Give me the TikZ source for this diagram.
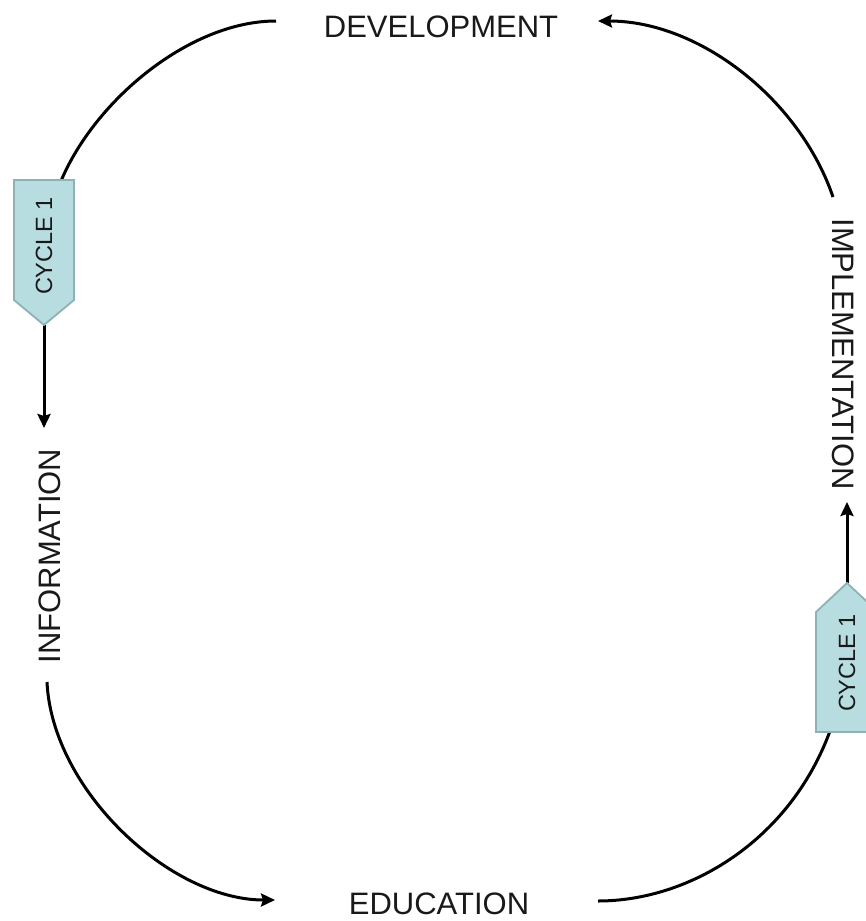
\documentclass[tikz,border=0pt]{standalone}
\usepackage{fontspec}
\setmainfont{Liberation Sans}
\usetikzlibrary{arrows.meta}
\definecolor{boxfill}{RGB}{183,221,224}
\definecolor{boxline}{RGB}{140,178,182}
\definecolor{txt}{RGB}{25,25,25}
\begin{document}
\begin{tikzpicture}[x=1pt,y=-1pt,
  lbl/.style={font=\fontsize{31}{37}\selectfont, text=txt, inner sep=0pt},
  cyc/.style={font=\fontsize{23.5}{28}\selectfont, text=txt, inner sep=0pt, rotate=90},
  flow/.style={line width=3pt, black},
  tip/.style={-{Stealth[length=14pt,width=13pt,inset=2pt]}},
  pent/.style={fill=boxfill, draw=boxline, line width=1.8pt, line join=miter}]
\useasboundingbox (0,0) rectangle (866,921);
% labels
\node[lbl] (dev) at (441,27) {DEVELOPMENT};
\node[lbl] (edu) at (439,904) {EDUCATION};
\node[lbl, rotate=90] (info) at (50,556) {INFORMATION};
\node[lbl, rotate=-90] (impl) at (843,354) {IMPLEMENTATION};
% connector ends
\coordinate (devL) at (276,21);
\coordinate (devR) at (598,21);
\coordinate (eduL) at (275,900);
\coordinate (eduR) at (598,901);
\coordinate (infoT) at (44,428);
\coordinate (infoB) at (47,682);
\coordinate (implB) at (847,502);
\coordinate (implT) at (833,197);
\coordinate (c1top) at (61,181);
\coordinate (c1tip) at (44,325);
\coordinate (c2bot) at (830,731);
\coordinate (c2tip) at (847,583);
% connectors
\draw[flow] (devL) .. controls (190,21) and (95,100) .. (c1top);
\draw[flow,tip] (c1tip) -- (infoT);
\draw[flow,tip] (infoB) .. controls (52,790) and (170,900) .. (eduL);
\draw[flow] (eduR) .. controls (690,901) and (790,840) .. (c2bot);
\draw[flow,tip] (c2tip) -- (implB);
\draw[flow,tip] (implT) .. controls (800,100) and (700,21) .. (devR);
% cycle boxes
\draw[pent] (14,180) -- (74,180) -- (74,300) -- (c1tip) -- (14,300) -- cycle;
\node[cyc] (c1) at (44,246) {CYCLE 1};
\draw[pent] (816,732) -- (816,612) -- (c2tip) -- (878,612) -- (878,732) -- cycle;
\node[cyc] (c2) at (847,663) {CYCLE 1};
\end{tikzpicture}
\end{document}
